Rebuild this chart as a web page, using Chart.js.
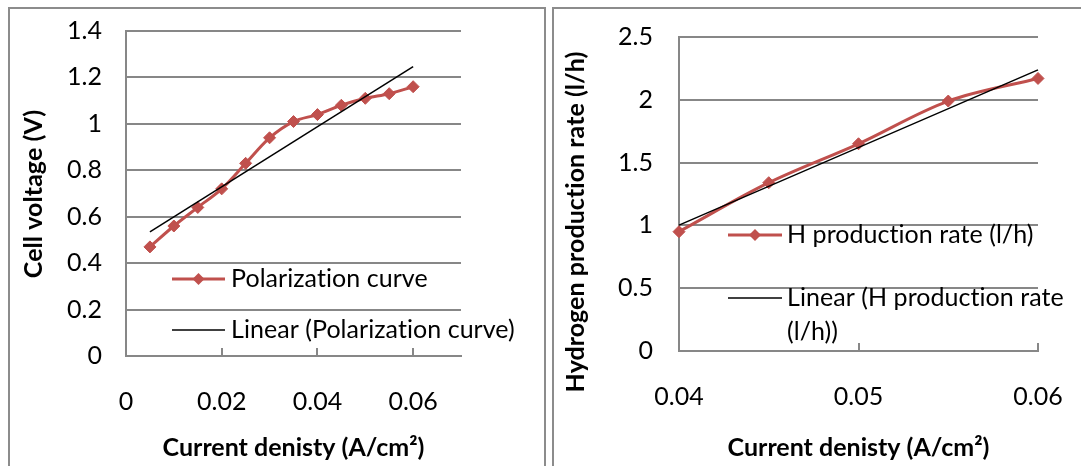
<!DOCTYPE html>
<html>
<head>
<meta charset="utf-8">
<script src="https://cdn.jsdelivr.net/npm/chart.js@4.4.1/dist/chart.umd.min.js"></script>
<style>
  html, body { margin: 0; padding: 0; background: #fff; width: 1081px; height: 466px; overflow: hidden; }
  .panel { position: absolute; top: 7px; height: 500px; box-sizing: border-box;
           border: 2px solid #8c8c8c; border-bottom: none; background: #fff; }
  #panelLeft { left: 8px; width: 538px; }
  #panelRight { left: 552px; width: 600px; }
  .panel canvas { position: absolute; left: 0; top: 0; font-variant-ligatures: none; }
</style>
</head>
<body>
<div class="panel" id="panelLeft"><canvas id="polarization" width="534" height="457"></canvas></div>
<div class="panel" id="panelRight"><canvas id="hydrogen" width="527" height="457"></canvas></div>
<script>
// Polarization curve: cell voltage (V) against current density (A/cm²)
const polCurrentDensity = [0.005, 0.01, 0.015, 0.02, 0.025, 0.03, 0.035, 0.04, 0.045, 0.05, 0.055, 0.06];
const polCellVoltage    = [0.47, 0.56, 0.64, 0.72, 0.83, 0.94, 1.01, 1.04, 1.08, 1.11, 1.13, 1.16];
const polXTicks = [0, 0.02, 0.04, 0.06];
const polYTicks = [0, 0.2, 0.4, 0.6, 0.8, 1, 1.2, 1.4];

// Hydrogen production rate (l/h) against current density (A/cm²)
const h2CurrentDensity = [0.04, 0.045, 0.05, 0.055, 0.06];
const h2Rate           = [0.95, 1.34, 1.65, 1.99, 2.17];
const h2XTicks = [0.04, 0.05, 0.06];
const h2YTicks = [0, 0.5, 1, 1.5, 2, 2.5];

const FONT_FAMILY = 'Lato, "Liberation Sans", sans-serif';
const FONT_SIZE = 25;
const RED = '#C0504D';
const GRID = '#878787';

// Plain letter shapes (no "ti"-style ligatures) for canvas text
function plainText(ctx) {
  if ('textRendering' in ctx) ctx.textRendering = 'optimizeSpeed';
  if ('letterSpacing' in ctx) ctx.letterSpacing = '0.05px';
}

// Least-squares straight line through the series, drawn between its first and last x
function linearTrend(xs, ys) {
  const n = xs.length;
  const mx = xs.reduce((a, b) => a + b, 0) / n;
  const my = ys.reduce((a, b) => a + b, 0) / n;
  let sxy = 0, sxx = 0;
  for (let i = 0; i < n; i++) { sxy += (xs[i] - mx) * (ys[i] - my); sxx += (xs[i] - mx) ** 2; }
  const slope = sxy / sxx, icept = my - slope * mx;
  return [xs[0], xs[n - 1]].map(x => ({ x, y: icept + slope * x }));
}

// Small upward tick marks on the category axis
const insideTicks = {
  id: 'insideTicks',
  beforeDatasetsDraw(chart, args, opts) {
    const sx = chart.scales.x, { ctx, chartArea } = chart;
    ctx.save();
    ctx.strokeStyle = GRID;
    ctx.lineWidth = 2;
    sx.ticks.forEach(t => {
      const px = Math.round(sx.getPixelForValue(t.value));
      if (px - chartArea.left < 3) return;
      ctx.beginPath();
      ctx.moveTo(px, chartArea.bottom);
      ctx.lineTo(px, chartArea.bottom - opts.length);
      ctx.stroke();
    });
    ctx.restore();
  }
};

// Legend drawn inside the plot: line sample (with marker) and wrapped label
const sampleLegend = {
  id: 'sampleLegend',
  afterDatasetsDraw(chart, args, opts) {
    const { ctx, chartArea } = chart;
    ctx.save();
    plainText(ctx);
    ctx.font = `${FONT_SIZE}px ${FONT_FAMILY}`;
    ctx.textBaseline = 'middle';
    ctx.textAlign = 'left';
    chart.data.datasets.forEach((ds, i) => {
      const y = chartArea.top + opts.rows[i];
      const x0 = chartArea.left + opts.x0, x1 = chartArea.left + opts.x1;
      ctx.strokeStyle = ds.borderColor;
      ctx.lineWidth = ds.borderWidth;
      ctx.beginPath(); ctx.moveTo(x0, y); ctx.lineTo(x1, y); ctx.stroke();
      if (ds.pointRadius > 0) {
        const cx = (x0 + x1) / 2, r = ds.pointRadius;
        ctx.fillStyle = ds.pointBackgroundColor;
        ctx.beginPath();
        ctx.moveTo(cx - r, y); ctx.lineTo(cx, y - r); ctx.lineTo(cx + r, y); ctx.lineTo(cx, y + r);
        ctx.closePath(); ctx.fill();
      }
      // wrap the label to the room left in the panel
      const tx = chartArea.left + opts.textX;
      const maxW = chart.width - tx - 4;
      const words = ds.label.split(' ');
      const lines = [];
      let cur = '';
      words.forEach(w => {
        const t = cur ? cur + ' ' + w : w;
        if (cur && ctx.measureText(t).width > maxW) { lines.push(cur); cur = w; } else { cur = t; }
      });
      lines.push(cur);
      ctx.fillStyle = '#000';
      lines.forEach((ln, k) => ctx.fillText(ln, tx, y + k * opts.lineGap));
    });
    ctx.restore();
  }
};

// Rotated value-axis caption
const sideTitle = {
  id: 'sideTitle',
  afterDraw(chart, args, opts) {
    const { ctx } = chart;
    ctx.save();
    plainText(ctx);
    ctx.translate(opts.x, opts.y);
    ctx.rotate(-Math.PI / 2);
    ctx.font = `bold ${FONT_SIZE}px ${FONT_FAMILY}`;
    ctx.fillStyle = '#000';
    ctx.textAlign = 'center';
    ctx.textBaseline = 'middle';
    ctx.fillText(opts.text, 0, 0);
    ctx.restore();
  }
};

// Fixed axis thickness; edge labels are allowed to overhang the plot
function fixAxisSize(prop, size) {
  return s => {
    s[prop] = size;
    s.paddingTop = 0; s.paddingBottom = 0; s.paddingLeft = 0; s.paddingRight = 0;
  };
}

function buildChart(canvasId, c) {
  const tickFont = { family: FONT_FAMILY, size: FONT_SIZE };
  return new Chart(document.getElementById(canvasId), {
    type: 'line',
    data: {
      datasets: [
        {
          label: c.seriesLabel,
          data: c.xs.map((x, i) => ({ x, y: c.ys[i] })),
          borderColor: RED, backgroundColor: RED, borderWidth: 3,
          tension: 0.33, pointStyle: 'rectRot', pointRadius: 6, pointHoverRadius: 6,
          pointBackgroundColor: RED, pointBorderColor: RED, pointBorderWidth: 1,
          clip: false, order: 2
        },
        {
          label: 'Linear (' + c.seriesLabel + ')',
          data: linearTrend(c.xs, c.ys),
          borderColor: '#000', backgroundColor: '#000', borderWidth: 1.5,
          pointRadius: 0, pointHoverRadius: 0, tension: 0,
          clip: false, order: 1
        }
      ]
    },
    options: {
      responsive: false, animation: false, devicePixelRatio: 1,
      events: [],
      layout: { padding: c.padding },
      plugins: {
        legend: { display: false },
        tooltip: { enabled: false },
        insideTicks: { length: 8 },
        sampleLegend: c.legend,
        sideTitle: c.yTitle
      },
      scales: {
        x: {
          type: 'linear', min: c.xMin, max: c.xMax,
          afterBuildTicks: s => { s.ticks = c.xTicks.map(v => ({ value: v })); },
          afterFit: fixAxisSize('height', c.xAxisHeight),
          ticks: { font: tickFont, color: '#000', padding: 31, maxRotation: 0, autoSkip: false, callback: v => String(v) },
          grid: { display: false, drawTicks: false },
          border: { display: true, color: GRID, width: 2 },
          title: {
            display: true, text: 'Current denisty (A/cm²)', color: '#000',
            font: { family: FONT_FAMILY, size: FONT_SIZE, weight: 'bold' },
            padding: { top: 0, bottom: 3 }
          }
        },
        y: {
          type: 'linear', min: c.yMin, max: c.yMax,
          afterBuildTicks: s => { s.ticks = c.yTicks.map(v => ({ value: v })); },
          afterFit: fixAxisSize('width', c.yAxisWidth),
          ticks: { font: tickFont, color: '#000', padding: c.yTickPad, autoSkip: false, callback: v => String(v) },
          grid: { color: GRID, lineWidth: 2, drawTicks: false },
          border: { display: true, color: GRID, width: 2 }
        }
      }
    },
    plugins: [insideTicks, sampleLegend, sideTitle]
  });
}

buildChart('polarization', {
  seriesLabel: 'Polarization curve',
  xs: polCurrentDensity, ys: polCellVoltage,
  xMin: 0, xMax: 0.07, xTicks: polXTicks,
  yMin: 0, yMax: 1.4, yTicks: polYTicks,
  padding: { left: 0, top: 22, right: 83, bottom: 0 },
  yAxisWidth: 116, xAxisHeight: 110, yTickPad: 24,
  legend: { x0: 46, x1: 99, textX: 105, rows: [248, 299], lineGap: 34 },
  yTitle: { text: 'Cell voltage (V)', x: 24, y: 185 }
});

buildChart('hydrogen', {
  seriesLabel: 'H production rate (l/h)',
  xs: h2CurrentDensity, ys: h2Rate,
  xMin: 0.04, xMax: 0.06, xTicks: h2XTicks,
  yMin: 0, yMax: 2.5, yTicks: h2YTicks,
  padding: { left: 0, top: 28, right: 43, bottom: 0 },
  yAxisWidth: 125, xAxisHeight: 115, yTickPad: 26,
  legend: { x0: 49, x1: 103, textX: 108, rows: [198, 261], lineGap: 34 },
  yTitle: { text: 'Hydrogen production rate (l/h)', x: 22, y: 213 }
});
</script>
</body>
</html>
